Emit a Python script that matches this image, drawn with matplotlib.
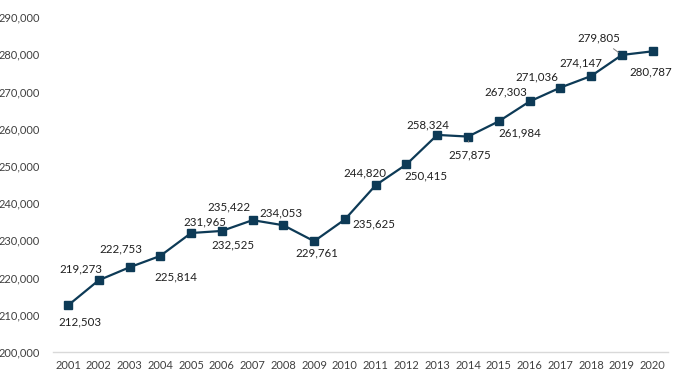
import matplotlib
matplotlib.use('Agg')
import matplotlib.pyplot as plt

years = [str(y) for y in range(2001, 2021)]
values = [212503, 219273, 222753, 225814, 231965, 232525, 235422, 234053, 229761, 235625,
          244820, 250415, 258324, 257875, 261984, 267303, 271036, 274147, 279805, 280787]
# label offsets in pixels (dx, dy)
label_dx = [12, -18, -9, 16, 14, 11, -24, -2, 3, 29, -11, 19, -9, 2, 21, -24, -24, -10, -23, -2]
label_dy = [-16, 11, 18, -21, 11, -14, 13, 12, -12, -5, 12, -12, 10, -18, -12, 10, 11, 13, 17, -21]
leader = [2014, 2019]

plt.rcParams['font.family'] = ['Lato', 'DejaVu Sans']

fig = plt.figure(figsize=(6.81, 3.78), dpi=100)
ax = fig.add_axes([0.0772, 0.0688, 0.9038, 0.8862])

x = list(range(len(years)))
ax.plot(x, values, color='#0d3a56', linewidth=1.6, marker='s', markersize=5.2,
        markerfacecolor='#0d3a56', markeredgecolor='#0d3a56')

for i, v in enumerate(values):
    props = None
    if int(years[i]) in leader:
        props = dict(arrowstyle='-', color='#7f7f7f', lw=0.7, shrinkA=3, shrinkB=3)
    ax.annotate('{:,}'.format(v), (i, v), xytext=(label_dx[i], label_dy[i]),
                textcoords='offset pixels', ha='center', va='center',
                fontsize=8.3, color='#1f1f1f', arrowprops=props)

ax.set_xlim(-0.5, len(years) - 0.5)
ax.set_ylim(200000, 290000)
ax.set_xticks(x)
ax.set_xticklabels(years)
ax.set_yticks(range(200000, 290001, 10000))
ax.set_yticklabels(['{:,}'.format(t) for t in range(200000, 290001, 10000)])
ax.tick_params(axis='both', length=0, labelsize=8, colors='#404040')
ax.tick_params(axis='x', pad=6)
ax.tick_params(axis='y', pad=9)
for s in ['top', 'right', 'left']:
    ax.spines[s].set_visible(False)
ax.spines['bottom'].set_color('#d9d9d9')
ax.spines['bottom'].set_linewidth(1)

plt.savefig('out.png', dpi=100)
plt.close()
